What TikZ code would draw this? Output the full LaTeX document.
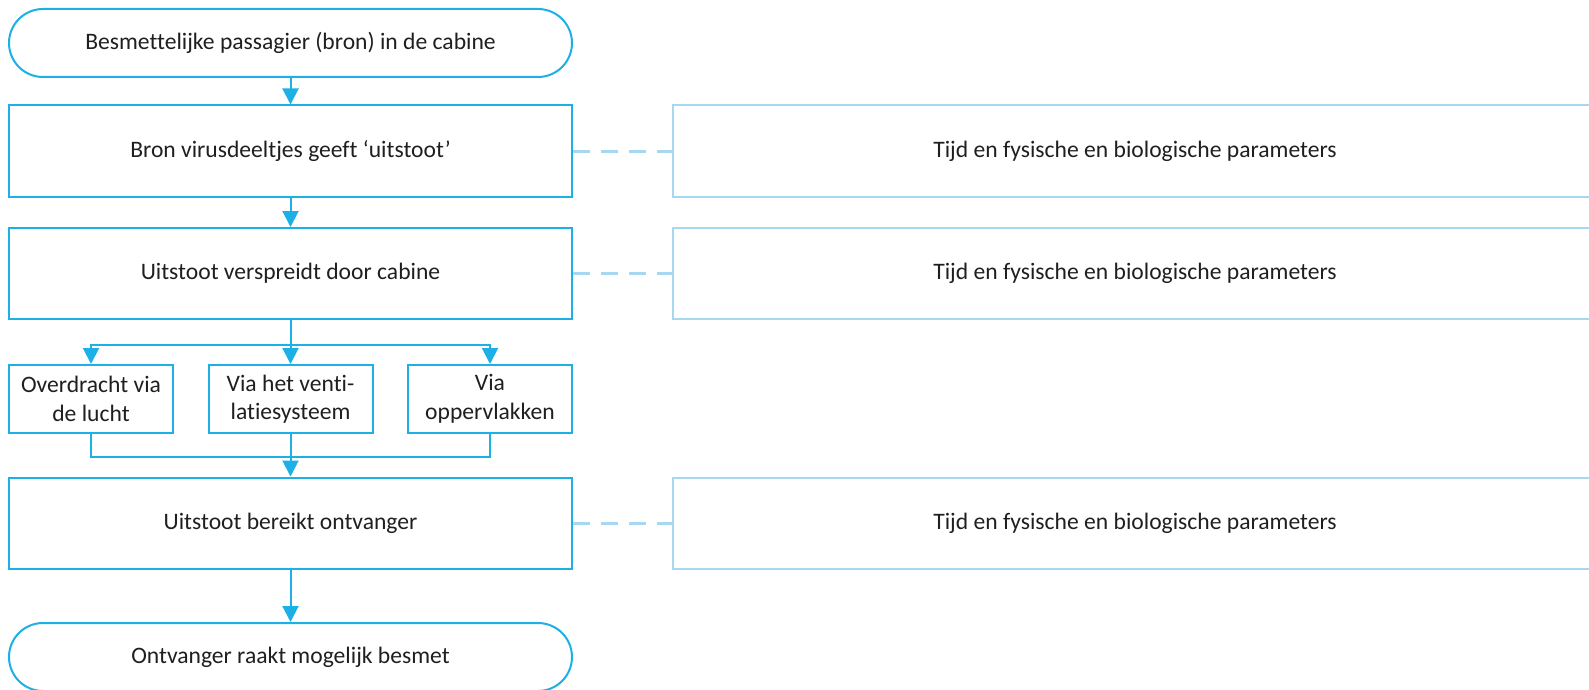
\documentclass[tikz,border=0pt]{standalone}
\usepackage{fontspec}
\setmainfont{Carlito}[Ligatures=NoCommon]
\usetikzlibrary{arrows.meta}
\definecolor{mainblue}{HTML}{1DB0E6}
\definecolor{lightblue}{HTML}{A8D8F1}
\begin{document}
\begin{tikzpicture}[x=1pt,y=-1pt,
  base/.style={font=\fontsize{23.6}{28.5}\selectfont, text=black!88, inner sep=0pt, align=center},
  term/.style={base, draw=mainblue, line width=2pt, rounded corners=34pt, minimum width=563pt, minimum height=68pt},
  mainbox/.style={base, draw=mainblue, line width=2pt, minimum width=563pt, minimum height=91pt},
  smallbox/.style={base, draw=mainblue, line width=2pt, minimum width=164pt, minimum height=68pt},
  sidebox/.style={base, draw=lightblue, line width=2pt, minimum width=924pt, minimum height=91pt},
  conn/.style={draw=mainblue, line width=2pt},
  arr/.style={conn, -{Triangle[width=16pt,length=16pt]}},
  dashconn/.style={draw=lightblue, line width=3pt, dash pattern=on 17pt off 11pt}
]
\useasboundingbox (0,0) rectangle (1589,690);

\node[term] (t1) at (290.5,43) {Besmettelijke passagier (bron) in de cabine};
\node[mainbox] (b1) at (290.5,151) {Bron virusdeeltjes geeft ‘uitstoot’};
\node[mainbox] (b2) at (290.5,273.5) {Uitstoot verspreidt door cabine};
\node[smallbox] (sA) at (91,399) {Overdracht via\\de lucht};
\node[smallbox] (sB) at (290.5,399) {Via het venti-\\latiesysteem};
\node[smallbox] (sC) at (490,399) {Via\\oppervlakken};
\node[mainbox] (b3) at (290.5,523) {Uitstoot bereikt ontvanger};
\node[term] (t2) at (290.5,657) {Ontvanger raakt mogelijk besmet};

\node[sidebox] (r1) at (1135,151) {Tijd en fysische en biologische parameters};
\node[sidebox] (r2) at (1135,273.5) {Tijd en fysische en biologische parameters};
\node[sidebox] (r3) at (1135,523) {Tijd en fysische en biologische parameters};

\draw[arr] (t1) -- (b1);
\draw[arr] (b1) -- (b2);
\coordinate (split) at (290.5,345);
\coordinate (merge) at (290.5,457);
\draw[conn] (b2.south) -- (split);
\draw[arr] (split) -| (sA.north);
\draw[arr] (split) -- (sB.north);
\draw[arr] (split) -| (sC.north);
\draw[conn] (sA.south) |- (merge);
\draw[conn] (sC.south) |- (merge);
\draw[arr] (sB.south) -- (b3.north);
\draw[arr] (b3) -- (t2);

\draw[dashconn] (b1.east) -- (r1.west);
\draw[dashconn] (b2.east) -- (r2.west);
\draw[dashconn] (b3.east) -- (r3.west);
\end{tikzpicture}
\end{document}
